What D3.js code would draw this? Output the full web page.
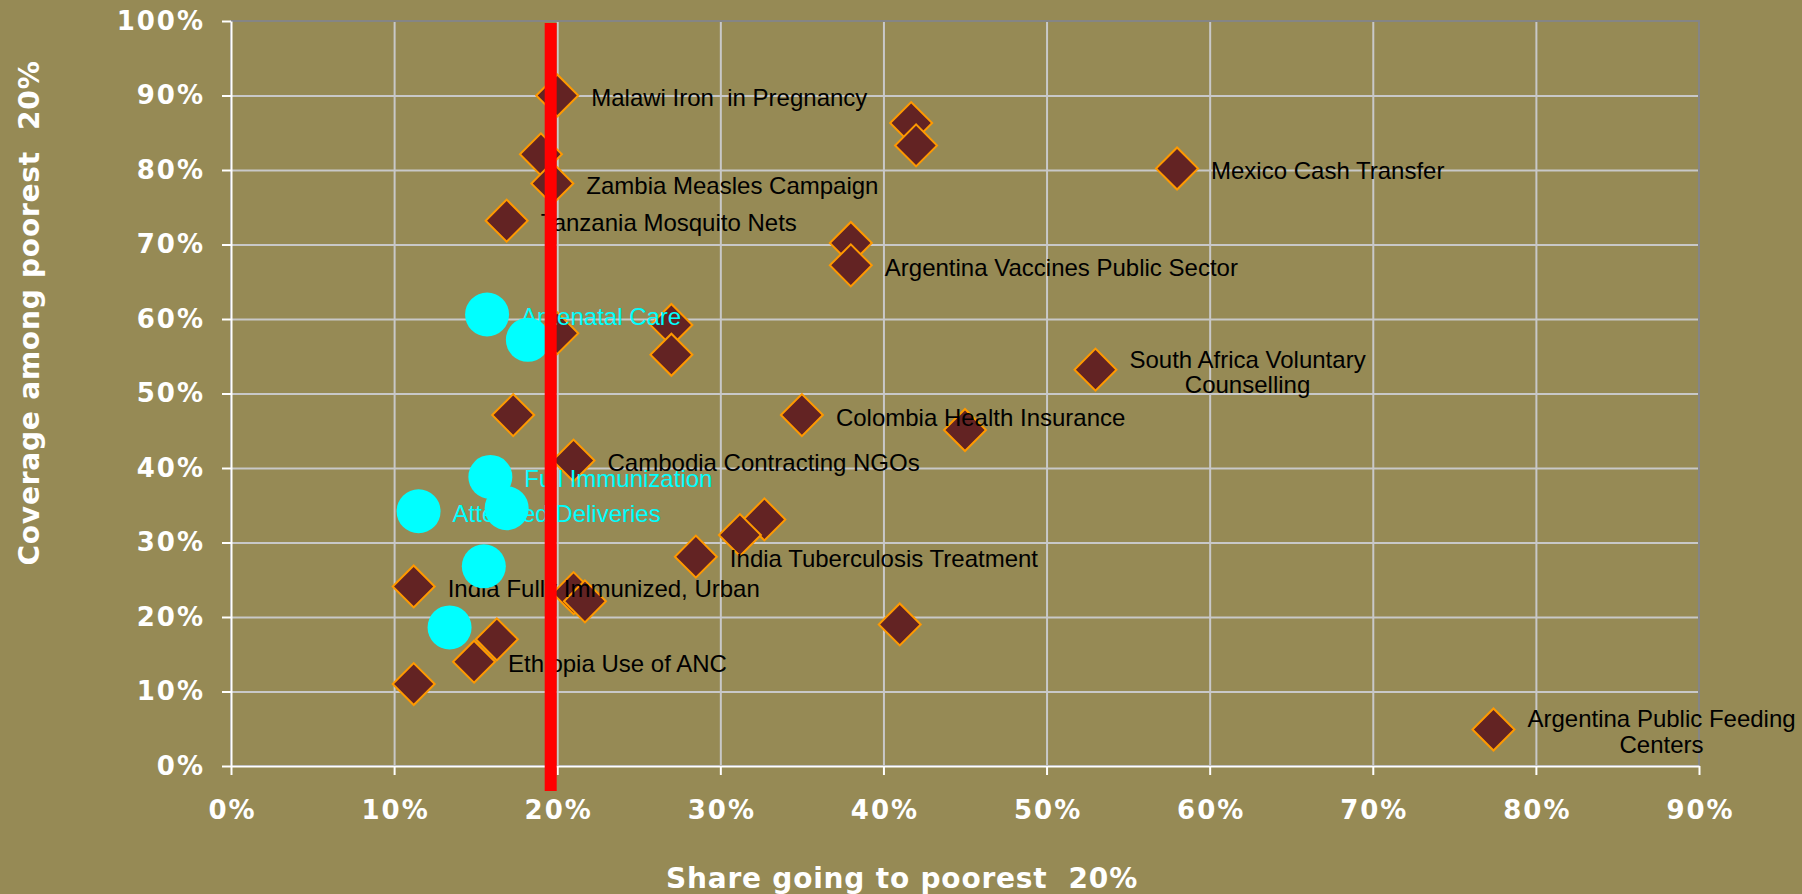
<!DOCTYPE html>
<html lang="en">
<head>
    <meta charset="UTF-8">
    <title>Coverage vs share going to poorest 20%</title>
    <script src="https://d3js.org/d3.v7.min.js"></script>
    <style>
        html, body { margin: 0; padding: 0; background: #968a55; }
        svg { display: block; }
        .tick-label { font-family: "DejaVu Sans", Verdana, sans-serif; font-weight: bold; font-size: 26px; fill: #fff; letter-spacing: 2px; }
        .axis-title { font-family: "DejaVu Sans", Verdana, sans-serif; font-weight: bold; font-size: 28px; fill: #fff; letter-spacing: 0.8px; white-space: pre; }
        .pt-label { font-family: "Liberation Sans", Arial, sans-serif; font-size: 24px; white-space: pre; }
    </style>
</head>
<body>
    <div id="chart"></div>

    <script>
        // programmes shown as diamonds (share to poorest 20%, coverage among poorest 20%)
        const diamondShare = [0.200, 0.190, 0.197, 0.169, 0.417, 0.420, 0.580, 0.380, 0.380, 0.270,
                              0.270, 0.200, 0.530, 0.173, 0.350, 0.450, 0.210, 0.327, 0.312, 0.285,
                              0.112, 0.210, 0.217, 0.410, 0.163, 0.149, 0.112, 0.774];
        const diamondCoverage = [0.900, 0.821, 0.782, 0.732, 0.863, 0.833, 0.802, 0.702, 0.672, 0.592,
                                 0.552, 0.581, 0.532, 0.471, 0.471, 0.451, 0.410, 0.331, 0.310, 0.281,
                                 0.241, 0.232, 0.221, 0.190, 0.170, 0.140, 0.110, 0.049];
        const diamondLabels = ["Malawi Iron  in Pregnancy", "", "Zambia Measles Campaign", "Tanzania Mosquito Nets",
                               "", "", "Mexico Cash Transfer", "", "Argentina Vaccines Public Sector", "",
                               "", "", "South Africa Voluntary\nCounselling", "", "Colombia Health Insurance",
                               "", "Cambodia Contracting NGOs", "", "", "India Tuberculosis Treatment",
                               "India Fully Immunized, Urban", "", "", "", "", "Ethiopia Use of ANC", "",
                               "Argentina Public Feeding\nCenters"];

        // cyan circles
        const circleShare = [0.157, 0.182, 0.159, 0.169, 0.115, 0.155, 0.134];
        const circleCoverage = [0.606, 0.572, 0.388, 0.346, 0.342, 0.268, 0.186];
        const circleLabels = ["Antenatal Care", "", "Full Immunization", "", "Attended Deliveries", "", ""];

        const xTickValues = [0, 0.1, 0.2, 0.3, 0.4, 0.5, 0.6, 0.7, 0.8, 0.9];
        const yTickValues = [0, 0.1, 0.2, 0.3, 0.4, 0.5, 0.6, 0.7, 0.8, 0.9, 1.0];
        const poorShareLine = 0.196;   // red reference line

        const width = 1802, height = 894;
        const plotLeft = 231, plotRight = 1699, plotTop = 21, plotBottom = 766;

        const x = d3.scaleLinear().domain([0, 0.9]).range([plotLeft, plotRight]);
        const y = d3.scaleLinear().domain([0, 1]).range([plotBottom, plotTop]);
        const pct = d3.format(".0%");

        const svg = d3.select("#chart").append("svg")
            .attr("width", width)
            .attr("height", height);

        // gridlines
        svg.append("g")
            .attr("transform", `translate(0,${plotBottom})`)
            .call(d3.axisBottom(x).tickValues(xTickValues.slice(1, -1)).tickSize(-(plotBottom - plotTop)).tickFormat(""))
            .call(g => g.select(".domain").remove())
            .call(g => g.selectAll("line").attr("stroke", "#c8c8c8").attr("stroke-width", 2));
        svg.append("g")
            .attr("transform", `translate(${plotLeft},0)`)
            .call(d3.axisLeft(y).tickValues(yTickValues.slice(1, -1)).tickSize(-(plotRight - plotLeft)).tickFormat(""))
            .call(g => g.select(".domain").remove())
            .call(g => g.selectAll("line").attr("stroke", "#c8c8c8").attr("stroke-width", 2));

        // plot border (top / right)
        svg.append("rect")
            .attr("x", plotLeft).attr("y", plotTop)
            .attr("width", plotRight - plotLeft).attr("height", plotBottom - plotTop)
            .attr("fill", "none").attr("stroke", "#858585").attr("stroke-width", 2);

        // axes
        const xAxis = svg.append("g")
            .attr("transform", `translate(0,${plotBottom})`)
            .call(d3.axisBottom(x).tickValues(xTickValues).tickFormat(pct).tickSize(9).tickSizeOuter(0).tickPadding(26));
        const yAxis = svg.append("g")
            .attr("transform", `translate(${plotLeft},0)`)
            .call(d3.axisLeft(y).tickValues(yTickValues).tickFormat(pct).tickSize(9).tickSizeOuter(0).tickPadding(17));
        [xAxis, yAxis].forEach(a => {
            a.attr("font-size", null).attr("font-family", null);
            a.select(".domain").attr("stroke", "#fff").attr("stroke-width", 2);
            a.selectAll(".tick line").attr("stroke", "#fff").attr("stroke-width", 2);
            a.selectAll(".tick text").attr("class", "tick-label").attr("fill", null);
        });
        xAxis.selectAll(".tick text").attr("dx", "1px");

        // axis titles
        svg.append("text")
            .attr("class", "axis-title")
            .attr("x", 902).attr("y", 888)
            .attr("text-anchor", "middle")
            .text("Share going to poorest  20%");
        svg.append("text")
            .attr("class", "axis-title")
            .attr("transform", "translate(39,313) rotate(-90)")
            .attr("text-anchor", "middle")
            .text("Coverage among poorest  20%");

        const diamonds = diamondShare.map((s, i) => ({ s, c: diamondCoverage[i], label: diamondLabels[i] }));
        const circles = circleShare.map((s, i) => ({ s, c: circleCoverage[i], label: circleLabels[i] }));

        // diamonds
        const diamondPath = d3.symbol().type(d3.symbolSquare).size(880);
        svg.append("g")
            .selectAll("path")
            .data(diamonds)
            .enter().append("path")
            .attr("d", diamondPath)
            .attr("transform", d => `translate(${x(d.s)},${y(d.c)}) rotate(45)`)
            .attr("fill", "#632323")
            .attr("stroke", "#ff9900")
            .attr("stroke-width", 2);

        function drawLabels(data, color) {
            const g = svg.append("g");
            data.filter(d => d.label).forEach(d => {
                const lines = d.label.split("\n");
                const t = g.append("text")
                    .attr("class", "pt-label")
                    .attr("fill", color);
                const x0 = x(d.s) + 34;
                const y0 = y(d.c) - (lines.length - 1) * 12.5 + 2;
                lines.forEach((ln, k) => {
                    t.append("tspan")
                        .attr("x", x0)
                        .attr("y", y0 + k * 25.5)
                        .attr("dy", "0.35em")
                        .text(ln);
                });
                if (lines.length > 1) {
                    // centre the lines on the widest one
                    const spans = t.selectAll("tspan").nodes();
                    const w = d3.max(spans, n => n.getComputedTextLength());
                    t.selectAll("tspan").attr("x", x0 + w / 2).attr("text-anchor", "middle");
                }
            });
        }

        drawLabels(diamonds, "#000");
        drawLabels(circles, "#00ffff");

        // circles
        svg.append("g")
            .selectAll("circle")
            .data(circles)
            .enter().append("circle")
            .attr("cx", d => x(d.s))
            .attr("cy", d => y(d.c))
            .attr("r", 22)
            .attr("fill", "#00ffff");

        // red line at ~20%
        svg.append("line")
            .attr("x1", x(poorShareLine)).attr("x2", x(poorShareLine))
            .attr("y1", y(1) + 2).attr("y2", y(0) + 25)
            .attr("stroke", "#ff0000")
            .attr("stroke-width", 12);
    </script>
</body>
</html>
